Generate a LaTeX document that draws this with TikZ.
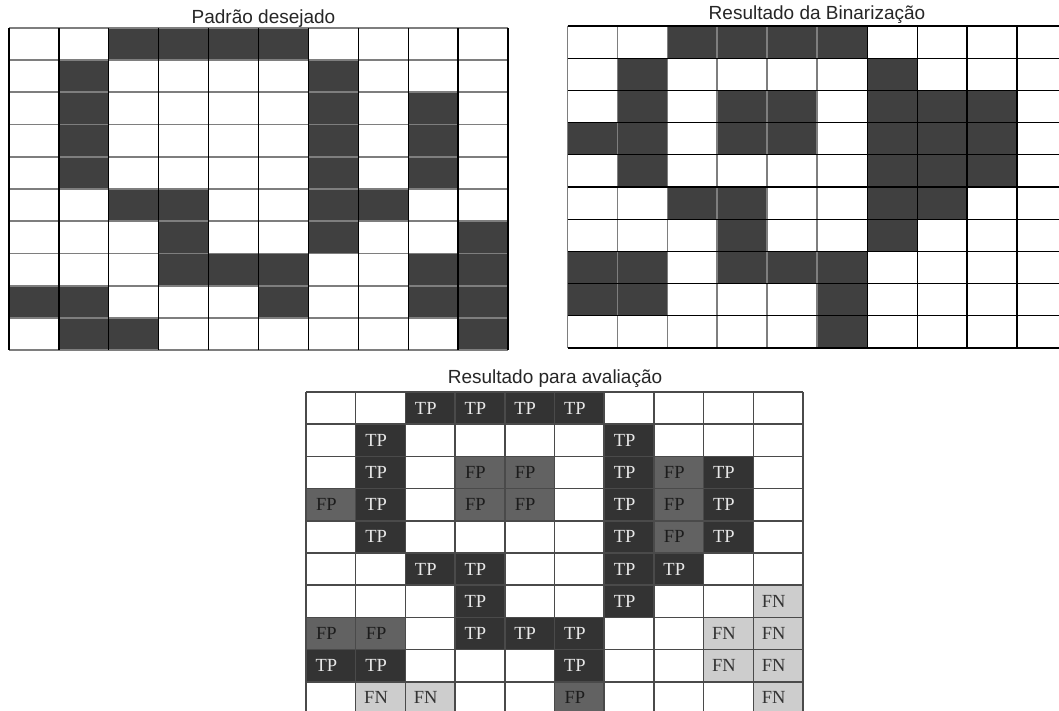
\documentclass[tikz,border=0pt]{standalone}
\usepackage{fontspec}
\setmainfont{Liberation Serif}
\newfontfamily\titlefont{Liberation Sans}
\definecolor{cellDark}{HTML}{404040}
\definecolor{tpFill}{HTML}{333333}
\definecolor{fpFill}{HTML}{626262}
\definecolor{fnFill}{HTML}{CDCDCD}
\definecolor{lineGray}{HTML}{7E7E7E}
\definecolor{lineMid}{HTML}{4A4A4A}
\definecolor{titleCol}{HTML}{262626}
\definecolor{tpText}{HTML}{E8E8E8}
\definecolor{fpText}{HTML}{1C1C1C}
\definecolor{fnText}{HTML}{333333}
\tikzset{
  titletext/.style={font=\titlefont\fontsize{19}{21}\selectfont, text=titleCol, anchor=base, inner sep=0pt},
  celltext/.style={font=\fontsize{18.5}{18.5}\selectfont, inner sep=0pt, anchor=center},
  gridblack/.style={draw=black, line width=1.3pt},
  gridgray/.style={draw=lineGray, line width=1.8pt},
  gridmid/.style={draw=lineMid, line width=1.5pt}
}
\begin{document}
\begin{tikzpicture}[x=1pt,y=-1pt]
\useasboundingbox (0,0) rectangle (1059,711);
\fill[white] (0,0) rectangle (1059,711);
\begin{scope}
\clip (0,0) rectangle (1059,711);
% ---------- Grid 1 : Padrao desejado ----------
\def\gx{9}\def\gy{28}\def\cw{49.9}\def\rh{32.2}
\foreach \r/\cols in {1/{3,4,5,6},2/{2,7},3/{2,7,9},4/{2,7,9},5/{2,7,9},6/{3,4,7,8},7/{4,7,10},8/{4,5,6,9,10},9/{1,2,6,9,10},10/{2,3,10}}
  \foreach \c in \cols
    \fill[cellDark] ({\gx+(\c-1)*\cw},{\gy+(\r-1)*\rh}) rectangle ++(\cw,\rh);
\foreach \k in {0,...,10}
  \draw[gridgray] ({\gx},{\gy+\k*\rh}) -- ({\gx+10*\cw},{\gy+\k*\rh});
\foreach \k in {0,...,10}
  \draw[gridblack] ({\gx+\k*\cw},{\gy}) -- ({\gx+\k*\cw},{\gy+10*\rh});
% ---------- Grid 2 : Resultado da Binarizacao ----------
\def\hx{567.5}\def\hy{26}\def\dw{49.95}
\foreach \r/\cols in {1/{3,4,5,6},2/{2,7},3/{2,4,5,7,8,9},4/{1,2,4,5,7,8,9},5/{2,7,8,9},6/{3,4,7,8},7/{4,7},8/{1,2,4,5,6},9/{1,2,6},10/{6}}
  \foreach \c in \cols
    \fill[cellDark] ({\hx+(\c-1)*\dw},{\hy+(\r-1)*\rh}) rectangle ++(\dw,\rh);
\foreach \k in {0,...,5}
  \draw[gridgray] ({\hx+\k*\dw},{\hy}) -- ({\hx+\k*\dw},{\hy+10*\rh});
\foreach \k in {6,...,10}
  \draw[gridblack] ({\hx+\k*\dw},{\hy}) -- ({\hx+\k*\dw},{\hy+10*\rh});
\foreach \k in {0,...,10}
  \draw[gridblack] ({\hx},{\hy+\k*\rh}) -- ({\hx+10*\dw},{\hy+\k*\rh});
% ---------- Grid 3 : Resultado para avaliacao ----------
\def\ex{306}\def\ey{392}\def\ew{49.7}
\foreach \r/\cols in {1/{3,4,5,6},2/{2,7},3/{2,7,9},4/{2,7,9},5/{2,7,9},6/{3,4,7,8},7/{4,7},8/{4,5,6},9/{1,2,6}}
  \foreach \c in \cols
    \fill[tpFill] ({\ex+(\c-1)*\ew},{\ey+(\r-1)*\rh}) rectangle ++(\ew,\rh);
\foreach \r/\cols in {3/{4,5,8},4/{1,4,5,8},5/{8},8/{1,2},10/{6}}
  \foreach \c in \cols
    \fill[fpFill] ({\ex+(\c-1)*\ew},{\ey+(\r-1)*\rh}) rectangle ++(\ew,\rh);
\foreach \r/\cols in {7/{10},8/{9,10},9/{9,10},10/{2,3,10}}
  \foreach \c in \cols
    \fill[fnFill] ({\ex+(\c-1)*\ew},{\ey+(\r-1)*\rh}) rectangle ++(\ew,\rh);
\foreach \k in {0,...,10}
  \draw[gridmid] ({\ex},{\ey+\k*\rh}) -- ({\ex+10*\ew},{\ey+\k*\rh});
\foreach \k in {0,...,10}
  \draw[gridmid] ({\ex+\k*\ew},{\ey}) -- ({\ex+\k*\ew},{\ey+10*\rh});
% cell labels
\foreach \r/\cols in {1/{3,4,5,6},2/{2,7},3/{2,7,9},4/{2,7,9},5/{2,7,9},6/{3,4,7,8},7/{4,7},8/{4,5,6},9/{1,2,6}}
  \foreach \c in \cols
    \node[celltext, text=tpText] (tp-\r-\c) at ({\ex+(\c-0.5)*\ew-4.5},{\ey+(\r-0.5)*\rh}) {TP};
\foreach \r/\cols in {3/{4,5,8},4/{1,4,5,8},5/{8},8/{1,2},10/{6}}
  \foreach \c in \cols
    \node[celltext, text=fpText] (fp-\r-\c) at ({\ex+(\c-0.5)*\ew-4.5},{\ey+(\r-0.5)*\rh}) {FP};
\foreach \r/\cols in {7/{10},8/{9,10},9/{9,10},10/{2,3,10}}
  \foreach \c in \cols
    \node[celltext, text=fnText] (fn-\r-\c) at ({\ex+(\c-0.5)*\ew-4.5},{\ey+(\r-0.5)*\rh}) {FN};
\end{scope}
% ---------- titles ----------
\node[titletext] (title1) at (263.5,24) {Padrão desejado};
\node[titletext] (title2) at (817,20) {Resultado da Binarização};
\node[titletext] (title3) at (555,383) {Resultado para avaliação};
\end{tikzpicture}
\end{document}
